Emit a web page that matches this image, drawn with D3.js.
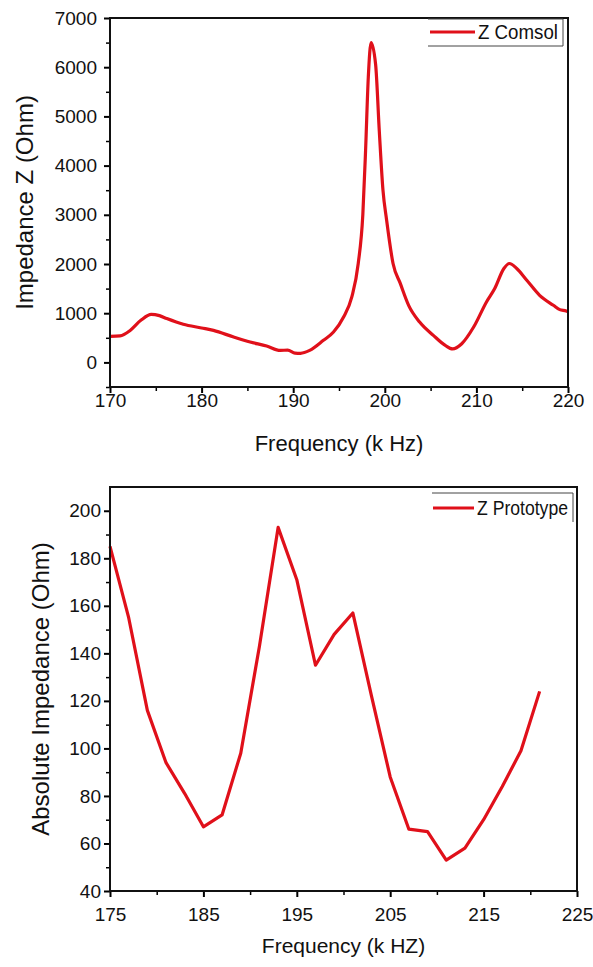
<!DOCTYPE html>
<html>
  <head>
    <title>Impedance</title>
    <script src="https://cdn.jsdelivr.net/npm/d3@7"></script>
    <style>
      body { margin: 0; background: #fff; }
      text { font-family: "Liberation Sans", Arial, sans-serif; fill: #111; }
    </style>
  </head>
  <body>
    <svg width="593" height="967" id="mainsvg"></svg>
    <script>

    // Z Comsol (top chart): frequency in kHz, impedance in Ohm
    const comsolFreq = [170, 171.1, 172.2, 173.4, 174.5, 175.4, 176.2, 178, 180, 181.3, 183.5, 185.3, 187.1, 188.6, 189.4, 190.2, 190.8,
                        191.8, 193.3, 194.4, 195.5, 196.4, 197.1, 197.6, 197.9, 198.2, 198.5, 199.0, 199.4, 199.8, 200.2, 200.9,
                        201.7, 202.6, 203.8, 205.3, 206.6, 207.4, 208.4, 209.7, 211.1, 212.0, 213.0, 213.6, 214.4, 215.5, 216.9,
                        218.4, 219.1, 219.8, 220];
    const comsolZ = [530, 540, 650, 860, 977, 950, 890, 774, 700, 650, 515, 414, 333, 244, 250, 190, 185,
                     244, 448, 617, 923, 1330, 2010, 3000, 4300, 5800, 6500, 6050, 4700, 3500, 2890, 2010,
                     1600, 1160, 820, 550, 346, 275, 380, 719, 1228, 1500, 1908, 2010, 1908, 1670, 1364,
                     1161, 1073, 1045, 1030];

    // Z Prototype (bottom chart)
    const protoFreq = [175, 177, 179, 181, 183, 185, 187, 189, 191, 193, 195, 197, 199, 201, 203, 205, 207, 209, 211, 213, 215, 217, 219, 221];
    const protoZ = [185, 155, 116, 94, 81, 67, 72, 98, 143, 193, 171, 135, 148, 157, 122, 88, 66, 65, 53, 58, 70, 84, 99, 124];

    const topXTicks = [170, 180, 190, 200, 210, 220];
    const topYTicks = [0, 1000, 2000, 3000, 4000, 5000, 6000, 7000];
    const botXTicks = [175, 185, 195, 205, 215, 225];
    const botYTicks = [40, 60, 80, 100, 120, 140, 160, 180, 200];

    const svg = d3.select('#mainsvg');
    const red = '#e0101a';

    function drawPanel(cfg) {
      const g = svg.append('g');
      const x = d3.scaleLinear().domain(cfg.xDomain).range([cfg.left, cfg.right]);
      const y = d3.scaleLinear().domain(cfg.yDomain).range([cfg.bottom, cfg.top]);

      // minor ticks first
      g.append('g')
        .attr('transform', `translate(0,${cfg.bottom})`)
        .call(d3.axisBottom(x).tickValues(cfg.xMinor).tickSize(4).tickFormat(''))
        .call(a => a.select('.domain').remove())
        .selectAll('line').attr('stroke-width', 1.5);
      g.append('g')
        .attr('transform', `translate(${cfg.left},0)`)
        .call(d3.axisLeft(y).tickValues(cfg.yMinor).tickSize(4).tickFormat(''))
        .call(a => a.select('.domain').remove())
        .selectAll('line').attr('stroke-width', 1.5);

      const xa = g.append('g')
        .attr('transform', `translate(0,${cfg.bottom})`)
        .call(d3.axisBottom(x).tickValues(cfg.xTicks).tickSize(6).tickPadding(cfg.xPad).tickFormat(d3.format('d')));
      xa.select('.domain').remove();
      xa.selectAll('line').attr('stroke-width', 2);
      xa.selectAll('text').attr('font-size', 19).attr('fill', '#111');

      const ya = g.append('g')
        .attr('transform', `translate(${cfg.left},0)`)
        .call(d3.axisLeft(y).tickValues(cfg.yTicks).tickSize(6).tickPadding(cfg.yPad).tickFormat(d3.format('d')));
      ya.select('.domain').remove();
      ya.selectAll('line').attr('stroke-width', 2);
      ya.selectAll('text').attr('font-size', 19).attr('fill', '#111');

      const line = d3.line()
        .x((d, i) => x(cfg.xs[i]))
        .y(d => y(d))
        .curve(cfg.curve);

      g.append('path')
        .datum(cfg.ys)
        .attr('d', line)
        .attr('fill', 'none')
        .attr('stroke', red)
        .attr('stroke-width', 3.2)
        .attr('stroke-linejoin', 'round');

      // frame
      g.append('rect')
        .attr('x', cfg.left).attr('y', cfg.top)
        .attr('width', cfg.right - cfg.left).attr('height', cfg.bottom - cfg.top)
        .attr('fill', 'none').attr('stroke', '#111').attr('stroke-width', 2);

      // legend
      const lg = cfg.legend;
      g.append('path')
        .attr('d', `M${lg.x0},${lg.top}H${lg.x1}V${lg.bottom}` + (lg.closeBottom ? `H${lg.x0}` : ''))
        .attr('fill', 'none').attr('stroke', '#444').attr('stroke-width', 1);
      g.append('line')
        .attr('x1', lg.lx0).attr('x2', lg.lx1).attr('y1', lg.ly).attr('y2', lg.ly)
        .attr('stroke', red).attr('stroke-width', 3.2);
      g.append('text')
        .attr('x', lg.lx1 + 3).attr('y', lg.ly + 7)
        .attr('font-size', 20)
        .attr('textLength', lg.tw).attr('lengthAdjust', 'spacingAndGlyphs')
        .text(lg.label);

      g.append('text')
        .attr('x', (cfg.left + cfg.right) / 2).attr('y', cfg.xTitleY)
        .attr('text-anchor', 'middle').attr('font-size', cfg.xTitleSize)
        .text(cfg.xTitle);
      g.append('text')
        .attr('transform', `translate(${cfg.yTitleX},${(cfg.top + cfg.bottom) / 2}) rotate(-90)`)
        .attr('text-anchor', 'middle').attr('font-size', 24)
        .text(cfg.yTitle);
    }

    drawPanel({
      left: 110, right: 568, top: 18, bottom: 387,
      xDomain: [170, 220], yDomain: [-500, 7000],
      xTicks: topXTicks, yTicks: topYTicks, xPad: 1, yPad: 7,
      xMinor: [175, 185, 195, 205, 215],
      yMinor: [-500, 500, 1500, 2500, 3500, 4500, 5500, 6500],
      xs: comsolFreq, ys: comsolZ, curve: d3.curveMonotoneX,
      legend: { x0: 428, x1: 563, top: 19, bottom: 46, closeBottom: true,
                lx0: 430, lx1: 475, ly: 32, tw: 80, label: 'Z Comsol' },
      xTitle: 'Frequency (k Hz)', xTitleY: 451, xTitleSize: 22,
      yTitle: 'Impedance Z (Ohm)', yTitleX: 33
    });

    drawPanel({
      left: 110, right: 577, top: 487, bottom: 891,
      xDomain: [175, 225], yDomain: [40, 210],
      xTicks: botXTicks, yTicks: botYTicks, xPad: 11, yPad: 3,
      xMinor: [180, 190, 200, 210, 220],
      yMinor: [50, 70, 90, 110, 130, 150, 170, 190],
      xs: protoFreq, ys: protoZ, curve: d3.curveLinear,
      legend: { x0: 432, x1: 573, top: 493, bottom: 522, closeBottom: false,
                lx0: 433, lx1: 474, ly: 508, tw: 91, label: 'Z Prototype' },
      xTitle: 'Frequency (k HZ)', xTitleY: 953, xTitleSize: 21,
      yTitle: 'Absolute Impedance (Ohm)', yTitleX: 49
    });

  </script>
  </body>
</html>
